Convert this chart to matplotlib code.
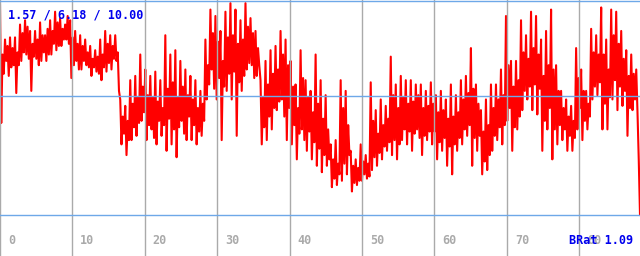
import numpy as np
import matplotlib
matplotlib.use("Agg")
import matplotlib.pyplot as plt

# values, left to right (scale 0..10), 8 per 10 px
values = [
    9.8, 4.3, 7.5, 6.6, 8.2, 7.2, 7.9, 6.5,
    8.3, 6.9, 7.8, 7.0, 8.3, 5.7, 7.6, 7.0,
    8.9, 7.2, 8.5, 7.6, 9.1, 7.5, 8.8, 7.3,
    8.6, 5.8, 8.0, 7.4, 8.6, 7.3, 8.2, 7.0,
    9.0, 7.2, 8.4, 7.6, 8.4, 7.2, 8.7, 7.5,
    9.1, 7.5, 8.6, 8.0, 9.5, 7.7, 9.0, 7.9,
    9.2, 7.9, 8.7, 8.2, 8.9, 8.2, 9.3, 8.0,
    9.1, 6.4, 8.3, 7.0, 8.6, 7.2, 8.0, 6.8,
    8.4, 6.8, 7.9, 7.2, 8.2, 7.0, 7.6, 6.9,
    7.9, 6.5, 7.3, 6.9, 7.7, 6.7, 7.4, 6.6,
    8.2, 6.3, 7.5, 6.9, 8.6, 6.7, 8.0, 7.1,
    8.4, 6.8, 7.9, 7.3, 8.4, 7.2, 7.6, 5.8,
    5.4, 3.3, 4.6, 3.8, 5.1, 2.8, 4.4, 3.5,
    6.3, 3.5, 5.2, 4.1, 6.5, 3.7, 5.5, 4.3,
    7.5, 4.4, 6.0, 4.8, 6.8, 3.5, 5.6, 4.2,
    6.5, 4.0, 5.5, 3.6, 6.7, 3.3, 5.3, 4.4,
    6.3, 3.7, 5.0, 4.2, 8.4, 3.0, 5.9, 4.5,
    7.5, 3.3, 6.2, 4.0, 7.7, 2.7, 5.5, 4.1,
    7.2, 4.4, 6.0, 3.8, 6.8, 3.5, 5.6, 4.6,
    6.5, 3.5, 5.4, 4.2, 6.3, 3.3, 5.0, 3.9,
    5.8, 3.7, 5.2, 4.4, 8.2, 5.4, 7.0, 6.1,
    9.6, 6.8, 8.5, 5.9, 9.3, 5.4, 8.1, 6.4,
    8.6, 3.5, 7.2, 6.0, 9.5, 5.8, 8.3, 6.6,
    9.9, 5.4, 8.4, 6.7, 9.6, 3.7, 8.0, 6.2,
    9.1, 5.8, 8.2, 6.5, 9.9, 6.8, 8.8, 7.1,
    9.2, 7.0, 8.5, 6.4, 8.6, 6.5, 7.8, 7.0,
    6.3, 3.3, 5.5, 4.1, 7.2, 3.5, 6.1, 4.6,
    7.7, 4.0, 6.6, 5.0, 7.9, 4.9, 6.8, 5.3,
    8.6, 5.4, 7.5, 4.6, 8.2, 3.5, 7.0, 5.0,
    7.2, 3.3, 6.0, 4.2, 6.1, 2.6, 5.0, 3.8,
    7.7, 4.0, 6.4, 3.5, 6.3, 3.0, 5.5, 3.9,
    5.8, 2.6, 4.8, 3.4, 7.5, 2.3, 5.2, 3.1,
    6.3, 2.0, 4.5, 2.8, 5.6, 2.3, 4.0, 2.6,
    3.3, 1.3, 2.6, 1.7, 3.5, 1.4, 2.4, 1.9,
    6.3, 1.6, 5.0, 2.4, 5.8, 1.9, 4.2, 2.8,
    3.0, 1.1, 2.3, 1.5, 2.6, 1.4, 2.2, 1.6,
    3.3, 1.6, 2.5, 1.9, 2.8, 1.7, 2.4, 1.8,
    6.2, 2.1, 4.4, 2.7, 4.9, 2.3, 3.8, 2.9,
    5.4, 2.6, 4.2, 3.2, 5.1, 3.0, 4.5, 3.4,
    7.4, 2.8, 5.6, 3.5, 6.1, 2.6, 5.0, 3.3,
    6.5, 3.5, 5.5, 4.0, 6.3, 3.3, 5.2, 3.9,
    6.3, 3.0, 5.3, 3.8, 6.1, 4.0, 5.6, 3.6,
    6.1, 2.8, 5.0, 3.7, 5.8, 3.5, 5.1, 3.9,
    6.2, 3.3, 5.2, 3.9, 5.6, 2.6, 4.8, 3.4,
    5.8, 3.0, 4.9, 3.6, 5.4, 2.3, 4.5, 3.2,
    6.1, 1.9, 4.6, 3.3, 5.6, 3.0, 4.8, 3.6,
    6.3, 3.3, 5.4, 4.0, 6.5, 3.7, 5.7, 4.2,
    7.8, 2.3, 5.9, 3.6, 6.1, 3.0, 5.2, 3.7,
    4.9, 1.9, 3.9, 2.5, 5.4, 2.1, 4.2, 2.8,
    6.1, 3.0, 5.0, 3.7, 6.1, 3.5, 5.4, 4.1,
    6.8, 3.3, 5.6, 4.2, 9.3, 4.4, 7.0, 5.0,
    7.2, 3.0, 6.0, 4.1, 7.2, 4.0, 6.3, 4.6,
    9.1, 4.9, 7.6, 5.8, 8.4, 5.4, 7.3, 6.0,
    9.5, 4.9, 7.8, 6.1, 9.3, 4.7, 7.5, 5.9,
    8.2, 3.0, 6.5, 4.4, 8.6, 4.0, 7.0, 5.0,
    9.6, 2.6, 6.8, 4.0, 7.0, 3.3, 5.8, 4.2,
    5.8, 3.5, 5.0, 4.0, 5.4, 3.0, 4.6, 3.7,
    5.1, 3.0, 4.4, 3.6, 7.8, 4.0, 6.4, 5.0,
    6.8, 3.5, 5.8, 4.4, 5.8, 4.0, 5.2, 4.6,
    8.7, 5.4, 7.6, 6.0, 8.4, 5.6, 7.5, 6.2,
    9.7, 4.0, 7.5, 5.2, 8.2, 4.0, 6.8, 5.5,
    9.6, 5.4, 8.4, 6.3, 9.5, 4.9, 8.0, 6.0,
    8.6, 5.1, 7.3, 5.8, 7.7, 3.7, 6.5, 5.0,
    7.5, 4.9, 6.6, 5.4, 6.8, 4.8, 2.6, 0.0,
]
x_end = 88.4
ticks = [0, 10, 20, 30, 40, 50, 60, 70, 80]
h_lines = [0, 5.56, 10]
top_label = "1.57 / 6.18 / 10.00"
corner_label = "BRat 1.09"

xs = np.linspace(0, x_end, len(values))

fig = plt.figure(figsize=(6.4, 2.56), dpi=100)
ax = fig.add_axes([0, 0, 1, 1])
ax.set_xlim(0, x_end)
ax.set_ylim(-1.916, 10.047)
ax.axis("off")

ax.plot(xs, values, color="#ff0000", lw=1.5, zorder=2)

for t in ticks:
    ax.axvline(t, color="#aaaaaa", lw=1, zorder=3)
    ax.text(t + 1.1, -1.21, str(t), color="#aaaaaa", fontsize=8.5,
            family="DejaVu Sans Mono", weight="bold", ha="left", va="center", zorder=4)
for h in h_lines:
    ax.axhline(h, color="#6ea8e8", lw=1, zorder=3)

fig.text(8 / 640, 1 - 15 / 256, top_label, color="#0000ee", fontsize=8.5,
         family="DejaVu Sans Mono", weight="bold", ha="left", va="center", zorder=5)
fig.text(633 / 640, 1 - 241 / 256, corner_label, color="#0000ee", fontsize=8.5,
         family="DejaVu Sans Mono", weight="bold", ha="right", va="center", zorder=5)

fig.savefig("out.png", dpi=100)
